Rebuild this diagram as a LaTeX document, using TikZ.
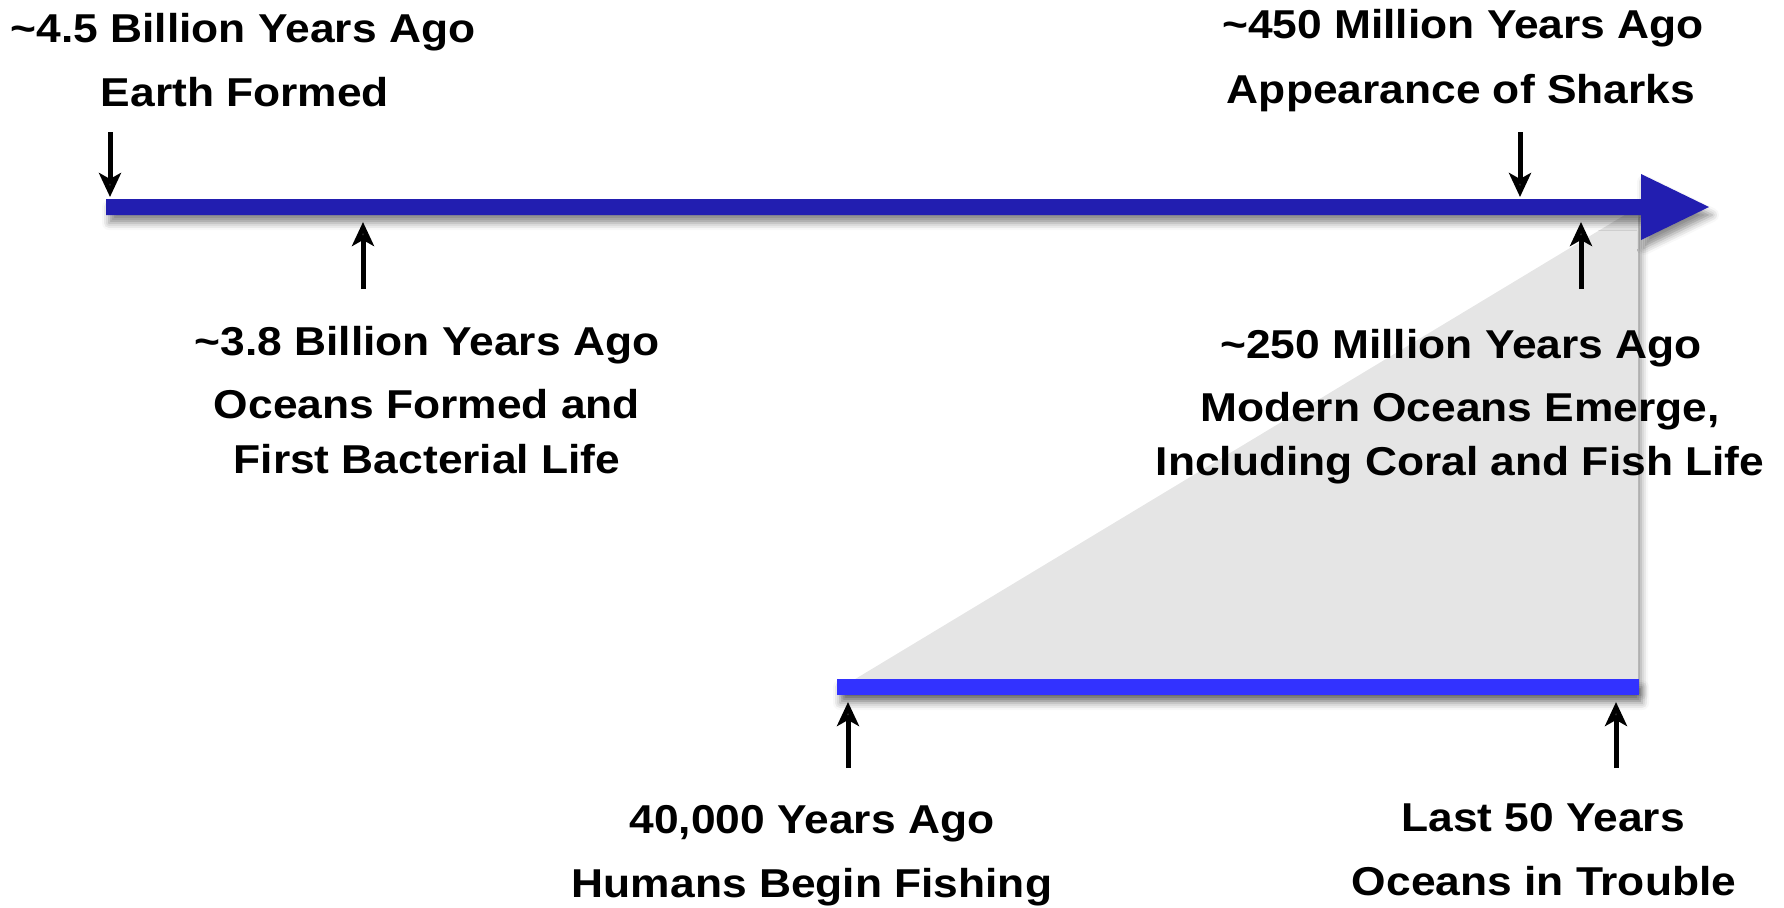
\documentclass[tikz,border=0pt]{standalone}
\usepackage{fontspec}
\setmainfont{Liberation Sans}[FakeStretch=1.1]
\usetikzlibrary{arrows.meta,shadows.blur}
\definecolor{darkbar}{RGB}{34,30,176}
\definecolor{lightbar}{RGB}{50,50,255}
\definecolor{wedge}{RGB}{229,229,229}
\begin{document}
\begin{tikzpicture}[x=1pt,y=-1pt,
  lbl/.style={font=\bfseries\fontsize{40.3}{41}\selectfont, inner sep=0pt, anchor=base},
  ptr/.style={line width=5pt, -{Stealth[length=24pt,width=22pt,inset=6pt]}},
  sh/.style={blur shadow={shadow xshift=3pt,shadow yshift=-8pt,shadow blur radius=7pt,shadow opacity=45}}]
\useasboundingbox (0,0) rectangle (1784,907);
% grey wedge
\fill[wedge, sh] (842,687) -- (1638,207) -- (1638,687) -- cycle;
% main timeline
\fill[darkbar, sh] (106,199) -- (1641,199) -- (1641,174) -- (1709,207) -- (1641,240) -- (1641,215) -- (106,215) -- cycle;
% lower timeline
\fill[lightbar, sh] (837,679) rectangle (1639,695);
% pointer coordinates
\coordinate (e0) at (110,132); \coordinate (e1) at (110,197);
\coordinate (b0) at (363,289); \coordinate (b1) at (363,222);
\coordinate (s0) at (1520,132); \coordinate (s1) at (1520,197);
\coordinate (m0) at (1581,289); \coordinate (m1) at (1581,222);
\coordinate (f0) at (848,768); \coordinate (f1) at (848,702);
\coordinate (t0) at (1616,768); \coordinate (t1) at (1616,702);
\draw[ptr] (e0) -- (e1);
\draw[ptr] (b0) -- (b1);
\draw[ptr] (s0) -- (s1);
\draw[ptr] (m0) -- (m1);
\draw[ptr] (f0) -- (f1);
\draw[ptr] (t0) -- (t1);
% labels
\node[lbl] (ea) at (243,42) {\textasciitilde 4.5 Billion Years Ago};
\node[lbl] (eb) at (245,106) {Earth Formed};
\node[lbl] (ba) at (427,355) {\textasciitilde 3.8 Billion Years Ago};
\node[lbl] (bb) at (427,418) {Oceans Formed and};
\node[lbl] (bc) at (427,473) {First Bacterial Life};
\node[lbl] (sa) at (1463,39) {\textasciitilde 450 Million Years Ago};
\node[lbl] (sb) at (1461,103) {Appearance of Sharks};
\node[lbl] (ma) at (1461,358) {\textasciitilde 250 Million Years Ago};
\node[lbl] (mb) at (1460,421) {Modern Oceans Emerge,};
\node[lbl] (mc) at (1460,475) {Including Coral and Fish Life};
\node[lbl] (fa) at (812,833) {40,000 Years Ago};
\node[lbl] (fb) at (812,897) {Humans Begin Fishing};
\node[lbl] (ta) at (1543,831) {Last 50 Years};
\node[lbl] (tb) at (1544,895) {Oceans in Trouble};
\end{tikzpicture}
\end{document}
